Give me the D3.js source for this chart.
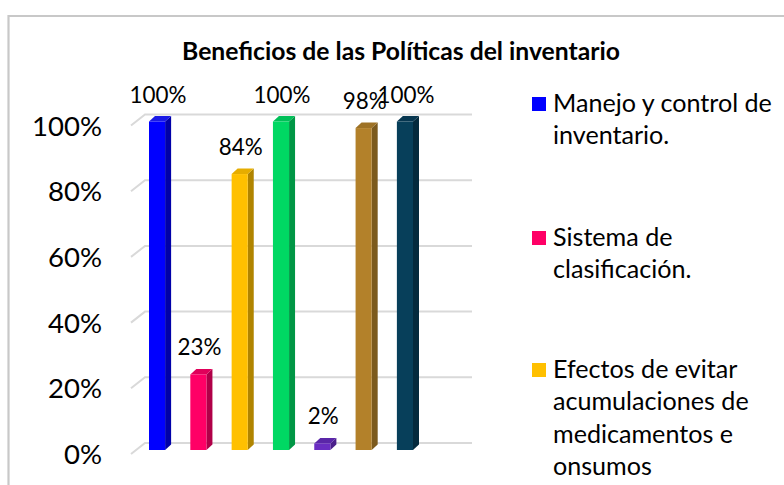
<!DOCTYPE html>
<html><head><meta charset="utf-8">
<script src="https://cdn.jsdelivr.net/npm/d3@7/dist/d3.min.js"></script>
<style>body{margin:0;background:#fff;overflow:hidden}svg{display:block}</style>
</head><body>
<svg id="chart" width="784" height="485"></svg>
<script>
// ---- data ----
const title = "Beneficios de las Políticas del inventario";
const series = ["s1", "s2", "s3", "s4", "s5", "s6", "s7"];
const values = [1.00, 0.23, 0.84, 1.00, 0.02, 0.98, 1.00];
const frontColors = ["#0000ff", "#ff0066", "#ffc000", "#00d863", "#6a2dc2", "#b3812a", "#073f5a"];
const sideColors  = ["#0000a8", "#b00048", "#b08400", "#009645", "#4a1f8a", "#7c5a1d", "#042a3d"];
const topColors   = ["#1a1ae6", "#e0005a", "#e6ad00", "#00c058", "#5a26a8", "#9e7225", "#063650"];
const tickValues = [0, 0.2, 0.4, 0.6, 0.8, 1.0];
const legendEntries = [
  ["Manejo y control de", "inventario."],
  ["Sistema de", "clasificación."],
  ["Efectos de evitar", "acumulaciones de", "medicamentos e", "onsumos"]
];
const legendColors = ["#0000ff", "#ff0066", "#ffc000"];

// ---- layout ----
const FONT = "Lato, 'Open Sans', sans-serif";
const svg = d3.select("#chart");
const x = d3.scaleBand().domain(series).range([149, 413]).paddingInner(0.61).paddingOuter(0);
const y = d3.scaleLinear().domain([0, 1]).range([450, 121.5]);
const wallDX = 14, wallDY = 11;      // depth of the back wall
const barDX = 6, barDY = 5.5;        // depth of each column
const wallLeft = 131, wallRight = 472;

// frame
svg.append("path").attr("d", "M8.5,485 L8.5,16 L784,16")
  .attr("fill", "none").attr("stroke", "#c8c8c8").attr("stroke-width", 2.2);

// fit helper: set font-size so the text gets a target width
function fit(sel, text, target, weight) {
  const t = svg.append("text").attr("font-family", FONT).attr("font-size", 100)
    .attr("font-weight", weight || "normal").text(text);
  const w = t.node().getComputedTextLength();
  t.remove();
  return 100 * target / w;
}

// title
const titleSize = fit(svg, title, 438, "bold");
svg.append("text").attr("x", 401).attr("y", 60).attr("text-anchor", "middle")
  .attr("font-family", FONT).attr("font-weight", "bold").attr("font-size", titleSize)
  .attr("fill", "#000").text(title);

// gridlines (back wall + left diagonal)
const grid = svg.append("g");
tickValues.forEach(v => {
  const yb = y(v) - 7;
  grid.append("path")
    .attr("d", `M${wallLeft},${yb + wallDY} L${wallLeft + wallDX},${yb} L${wallRight},${yb}`)
    .attr("fill", "none").attr("stroke", "#d9d9d9").attr("stroke-width", 2);
});

// y tick labels
const tickSize = fit(svg, "100%", 70);
const yAxis = d3.axisLeft(d3.scaleLinear().domain([0, 1]).range([y(0) + 4, y(1) + 4]))
  .tickValues(tickValues).tickFormat(d3.format(".0%")).tickSize(0).tickPadding(0);
const ya = svg.append("g").attr("transform", "translate(102,0)").call(yAxis);
ya.select(".domain").remove();
ya.selectAll("text").attr("font-family", FONT).attr("font-size", tickSize).attr("fill", "#000")
  .attr("dy", "0.35em");

// bars
const bw = x.bandwidth();
const bars = svg.append("g").selectAll("g").data(series).join("g");
bars.append("polygon").attr("fill", (d, i) => sideColors[i])
  .attr("points", (d, i) => {
    const x1 = x(d) + bw, yt = y(values[i]), yb = y(0);
    return [[x1, yt], [x1 + barDX, yt - barDY], [x1 + barDX, yb - barDY], [x1, yb]].join(" ");
  });
bars.append("polygon").attr("fill", (d, i) => topColors[i])
  .attr("points", (d, i) => {
    const x0 = x(d), yt = y(values[i]);
    return [[x0, yt], [x0 + barDX, yt - barDY], [x0 + bw + barDX, yt - barDY], [x0 + bw, yt]].join(" ");
  });
bars.append("rect").attr("fill", (d, i) => frontColors[i])
  .attr("x", d => x(d)).attr("width", bw)
  .attr("y", (d, i) => y(values[i])).attr("height", (d, i) => y(0) - y(values[i]));

// data labels
const labelSize = fit(svg, "100%", 57);
svg.append("g").selectAll("text").data(series).join("text")
  .attr("x", d => x(d) + bw / 2 + 1).attr("y", (d, i) => y(values[i]) - 19)
  .attr("text-anchor", "middle").attr("font-family", FONT).attr("font-size", labelSize)
  .attr("fill", "#000").text((d, i) => d3.format(".0%")(values[i]));

// legend
const legSize = fit(svg, legendEntries[0][0], 219);
const legTop = [112, 246, 378];
const lg = svg.append("g");
legendEntries.forEach((lines, i) => {
  lg.append("rect").attr("x", 532).attr("y", legTop[i] - 15).attr("width", 14).attr("height", 14)
    .attr("fill", legendColors[i]);
  lines.forEach((ln, j) => {
    lg.append("text").attr("x", 553).attr("y", legTop[i] + j * 32.3)
      .attr("font-family", FONT).attr("font-size", legSize).attr("fill", "#000").text(ln);
  });
});
</script>
</body></html>
